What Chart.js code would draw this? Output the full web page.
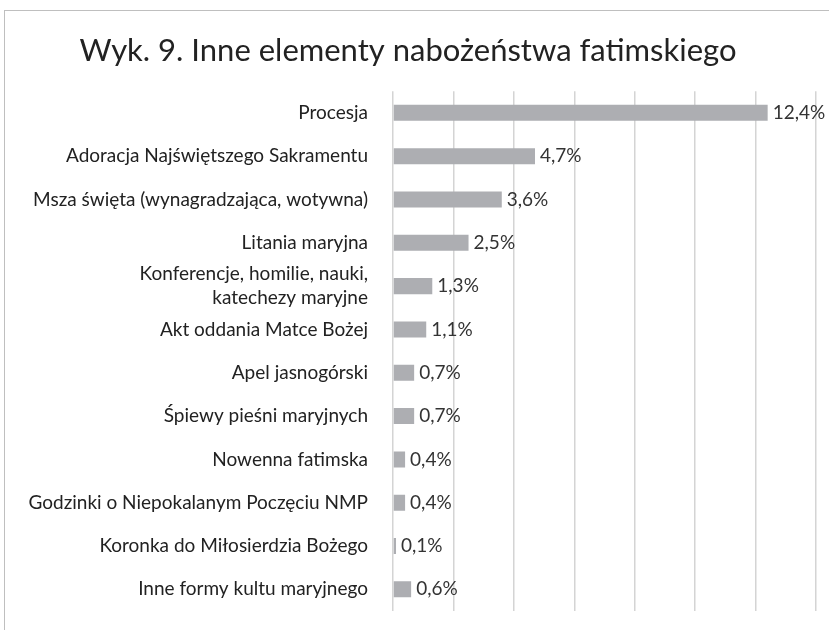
<!DOCTYPE html>
<html><head><meta charset="utf-8">
<script src="https://cdn.jsdelivr.net/npm/chart.js@4/dist/chart.umd.min.js"></script>
<style>
html,body{margin:0;padding:0;background:#fff;overflow:hidden;}
#frame{position:absolute;left:4px;top:10px;width:900px;height:700px;border:1.5px solid #bfbfbf;box-sizing:border-box;}
#c{position:absolute;left:0;top:0;width:829px;height:630px;}
</style></head>
<body>
<div id="frame"></div>
<canvas id="c" width="829" height="630"></canvas>
<script>
const categories = [
  'Procesja',
  'Adoracja Najświętszego Sakramentu',
  'Msza święta (wynagradzająca, wotywna)',
  'Litania maryjna',
  ['Konferencje, homilie, nauki,', 'katechezy maryjne'],
  'Akt oddania Matce Bożej',
  'Apel jasnogórski',
  'Śpiewy pieśni maryjnych',
  'Nowenna fatimska',
  'Godzinki o Niepokalanym Poczęciu NMP',
  'Koronka do Miłosierdzia Bożego',
  'Inne formy kultu maryjnego'
];
const values = [12.4, 4.7, 3.6, 2.5, 1.3, 1.1, 0.7, 0.7, 0.4, 0.4, 0.1, 0.6];
const titleText = 'Wyk. 9. Inne elementy nabożeństwa fatimskiego';
const FONT = "Lato, 'Open Sans', sans-serif";

const labelPlugin = {
  id: 'barLabels',
  afterDatasetsDraw(chart) {
    const ctx = chart.ctx;
    const meta = chart.getDatasetMeta(0);
    ctx.save();
    ctx.font = '19px ' + FONT;
    ctx.fillStyle = '#333';
    ctx.textAlign = 'left';
    ctx.textBaseline = 'middle';
    meta.data.forEach((bar, i) => {
      const txt = values[i].toFixed(1).replace('.', ',') + '%';
      ctx.fillText(txt, bar.x + 5, bar.y);
    });
    ctx.restore();
  }
};

new Chart(document.getElementById('c'), {
  type: 'bar',
  data: {
    labels: categories,
    datasets: [{
      data: values,
      backgroundColor: '#adaeb2',
      borderWidth: 0,
      categoryPercentage: 1,
      barPercentage: 0.37
    }]
  },
  options: {
    indexAxis: 'y',
    responsive: false,
    maintainAspectRatio: false,
    animation: false,
    layout: { autoPadding: false, padding: { top: 18, left: 0, right: 13, bottom: 19 } },
    plugins: {
      legend: { display: false },
      tooltip: { enabled: false },
      title: {
        display: true,
        text: titleText,
        color: '#222',
        font: { family: FONT, size: 31, weight: 'normal', lineHeight: 1.2 },
        padding: { top: 14, bottom: 22 }
      }
    },
    scales: {
      x: {
        min: 0, max: 14,
        ticks: { display: false, stepSize: 2 },
        grid: { color: '#d4d4d4', lineWidth: 1.5, drawTicks: false },
        border: { display: false },
        afterFit(scale) { scale.height = 0; scale.paddingLeft = 0; scale.paddingRight = 0; }
      },
      y: {
        grid: { display: false, drawTicks: false },
        border: { display: false },
        ticks: { color: '#222', font: { family: FONT, size: 19, lineHeight: 1.25 }, padding: 25, autoSkip: false },
        afterFit(scale) { scale.width = 393; scale.paddingTop = 0; scale.paddingBottom = 0; }
      }
    }
  },
  plugins: [labelPlugin]
});
</script>
</body></html>
